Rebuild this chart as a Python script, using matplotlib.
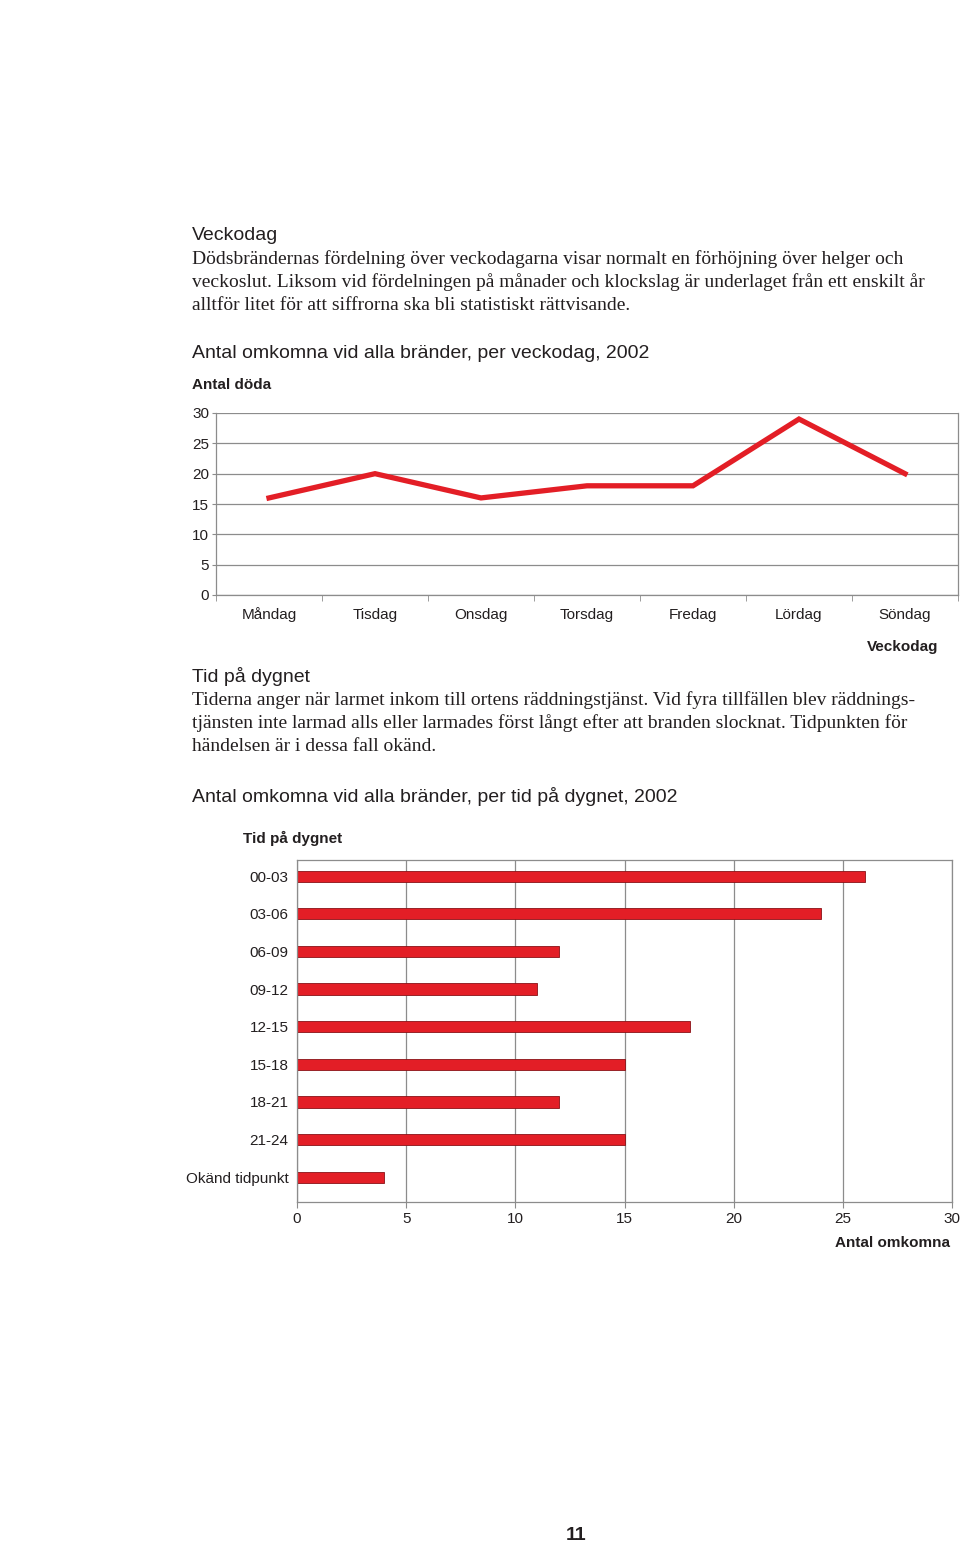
import matplotlib
matplotlib.use('Agg')
import matplotlib.pyplot as plt

# weekday data
weekdays = ['Måndag', 'Tisdag', 'Onsdag', 'Torsdag', 'Fredag', 'Lördag', 'Söndag']
deaths_per_day = [16, 20, 16, 18, 18, 29, 20]

# time of day data
time_slots = ['00-03', '03-06', '06-09', '09-12', '12-15', '15-18', '18-21', '21-24', 'Okänd tidpunkt']
deaths_per_slot = [26, 24, 12, 11, 18, 15, 12, 15, 4]

RED = '#e31e26'
GRID = '#8c8c8c'
TXT = '#231f20'
SANS = 'Liberation Sans'
SERIF = 'Liberation Serif'

W, H = 960, 1544
fig = plt.figure(figsize=(W / 100, H / 100), dpi=100)


def px(x, y):
  # pixel position -> figure fraction
  return x / W, 1 - y / H


def put(x, y, s, size, family=SANS, weight='normal', ha='left'):
  fx, fy = px(x, y)
  fig.text(fx, fy, s, fontsize=size, family=family, weight=weight,
           ha=ha, va='center', color=TXT)


# text blocks
put(192, 236, 'Veckodag', 14)
body1 = ['Dödsbrändernas fördelning över veckodagarna visar normalt en förhöjning över helger och',
         'veckoslut. Liksom vid fördelningen på månader och klockslag är underlaget från ett enskilt år',
         'alltför litet för att siffrorna ska bli statistiskt rättvisande.']
for i, line in enumerate(body1):
  put(192, 259 + i * 23.5, line, 14, family=SERIF)
put(192, 353, 'Antal omkomna vid alla bränder, per veckodag, 2002', 14)

put(192, 677, 'Tid på dygnet', 14)
body2 = ['Tiderna anger när larmet inkom till ortens räddningstjänst. Vid fyra tillfällen blev räddnings-',
         'tjänsten inte larmad alls eller larmades först långt efter att branden slocknat. Tidpunkten för',
         'händelsen är i dessa fall okänd.']
for i, line in enumerate(body2):
  put(192, 700 + i * 23.5, line, 14, family=SERIF)
put(192, 797, 'Antal omkomna vid alla bränder, per tid på dygnet, 2002', 14)

put(576, 1535, '11', 14, weight='bold', ha='center')

# line chart
l, b = px(216, 595)
r, t = px(958, 413)
ax1 = fig.add_axes([l, b, r - l, t - b])
x_pos = range(len(weekdays))
ax1.plot(x_pos, deaths_per_day, color=RED, linewidth=3.8, solid_joinstyle='miter')
ax1.set_xlim(-0.5, len(weekdays) - 0.5)
ax1.set_ylim(0, 30)
ax1.set_yticks(range(0, 31, 5))
ax1.yaxis.grid(True, color=GRID, linewidth=0.9)
ax1.set_axisbelow(True)
ax1.set_xticks(list(x_pos))
ax1.set_xticklabels(weekdays, fontsize=11, family=SANS, color=TXT)
ax1.set_xticks([i - 0.5 for i in range(len(weekdays) + 1)], minor=True)
ax1.tick_params(axis='x', which='major', length=0, pad=9)
ax1.tick_params(axis='x', which='minor', length=4, color=GRID, direction='out')
ax1.tick_params(axis='y', length=3, color=GRID, pad=2, labelsize=11, labelcolor=TXT)
for lab in ax1.get_yticklabels():
  lab.set_family(SANS)
  lab.set_verticalalignment('center_baseline')
for side in ['top']:
  ax1.spines[side].set_visible(False)
for side in ['left', 'bottom', 'right']:
  ax1.spines[side].set_color(GRID)
  ax1.spines[side].set_linewidth(0.9)
put(192, 385, 'Antal döda', 11, weight='bold')
put(938, 647, 'Veckodag', 11, weight='bold', ha='right')

# bar chart
l, b = px(297, 1202)
r, t = px(952, 860)
ax2 = fig.add_axes([l, b, r - l, t - b])
y_pos = range(len(time_slots))
ax2.barh(y_pos, deaths_per_slot, height=0.3, color=RED, edgecolor='#8a1116', linewidth=0.6)
ax2.set_ylim(len(time_slots) - 0.34, -0.43)
ax2.set_xlim(0, 30)
ax2.set_xticks(range(0, 31, 5))
ax2.xaxis.grid(True, color=GRID, linewidth=0.9)
ax2.set_axisbelow(True)
ax2.set_yticks(list(y_pos))
ax2.set_yticklabels(time_slots, fontsize=11, family=SANS, color=TXT)
ax2.tick_params(axis='y', length=0, pad=6)
ax2.tick_params(axis='x', length=4, color=GRID, pad=3, labelsize=11, labelcolor=TXT)
for lab in ax2.get_xticklabels():
  lab.set_family(SANS)
for side in ['left', 'bottom', 'top', 'right']:
  ax2.spines[side].set_color(GRID)
  ax2.spines[side].set_linewidth(0.9)
put(243, 838, 'Tid på dygnet', 11, weight='bold')
put(950, 1243, 'Antal omkomna', 11, weight='bold', ha='right')

fig.savefig('out.png', dpi=100)
plt.close()
